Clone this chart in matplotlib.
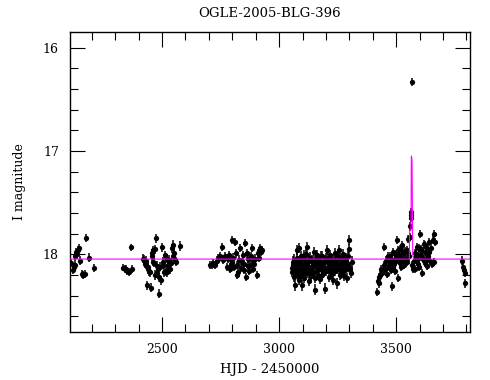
import matplotlib
matplotlib.use("Agg")
import matplotlib.pyplot as plt
from matplotlib.ticker import MultipleLocator

# OGLE-2005-BLG-396 light curve
# each season: HJD-2450000, I mag, typical error
hjd_2002 = [2113, 2118, 2122, 2127, 2130, 2133, 2138, 2141, 2145, 2150,
            2157, 2163, 2170, 2177, 2188, 2208]
mag_2002 = [18.08, 18.15, 18.12, 18.10, 18.02, 17.98, 18.00, 17.96, 17.94, 18.06,
            18.19, 18.20, 18.19, 17.84, 18.03, 18.13]
err_2002 = 0.04

hjd_2002b = [2333, 2342, 2348, 2352, 2358, 2366, 2373]
mag_2002b = [18.13, 18.14, 18.14, 18.16, 18.17, 17.93, 18.14]
err_2002b = 0.035

hjd_2003 = [2418, 2422, 2427, 2430, 2433, 2436, 2440, 2442, 2445, 2449,
            2452, 2456, 2458, 2460, 2463, 2466, 2470, 2472, 2474, 2477,
            2480, 2484, 2487, 2489, 2492, 2495, 2499, 2502, 2506, 2509,
            2513, 2516, 2520, 2523, 2527, 2531, 2534, 2538, 2541, 2545,
            2548, 2552, 2556, 2560, 2577]
mag_2003 = [18.04, 18.05, 18.09, 18.10, 18.06, 18.30, 18.12, 18.14, 18.16, 18.17,
            18.32, 17.99, 18.02, 18.07, 17.96, 18.08, 18.20, 17.95, 17.845, 18.11,
            18.18, 18.14, 18.22, 18.38, 18.12, 18.25, 17.93, 18.10, 18.07, 18.17,
            18.01, 18.16, 18.04, 18.17, 18.10, 18.05, 18.14, 18.08, 17.94, 18.02,
            17.91, 17.99, 18.05, 18.07, 17.92]
err_2003 = 0.045

hjd_2004 = [2705, 2712, 2719, 2726, 2733, 2740, 2748, 2755, 2762, 2769,
            2776, 2783, 2786, 2790, 2794, 2797, 2800, 2805, 2809, 2812,
            2816, 2819, 2822, 2826, 2830, 2833, 2836, 2840, 2844, 2848,
            2851, 2855, 2858, 2862, 2865, 2868, 2872, 2876, 2880, 2883,
            2887, 2890, 2894, 2898, 2904, 2908, 2912, 2916, 2919, 2923, 2926]
mag_2004 = [18.10, 18.10, 18.08, 18.10, 18.06, 18.04, 18.02, 17.93, 18.05, 18.02,
            18.12, 18.04, 18.01, 18.14, 18.09, 18.07, 17.86, 18.03, 18.12, 17.88,
            17.99, 18.10, 18.20, 18.17, 18.05, 17.94, 18.13, 18.07, 18.01, 18.15,
            18.09, 17.89, 18.22, 17.99, 18.11, 18.04, 18.16, 18.10, 18.02, 17.94,
            18.06, 18.14, 18.09, 18.04, 18.20, 17.99, 17.97, 18.03, 17.94, 17.98, 17.96]
err_2004 = 0.04

hjd_2005 = [3054, 3058, 3062, 3065, 3068, 3071, 3074, 3076, 3079, 3081,
            3083, 3086, 3088, 3091, 3093, 3097, 3099, 3102, 3105, 3108,
            3110, 3113, 3116, 3118, 3121, 3124, 3127, 3129, 3132, 3135,
            3138, 3141, 3144, 3147, 3150, 3154, 3157, 3160, 3163, 3166,
            3169, 3172, 3175, 3178, 3181, 3184, 3187, 3190, 3193, 3197,
            3200, 3204, 3207, 3210, 3213, 3216, 3219, 3222, 3225, 3228,
            3231, 3234, 3237, 3240, 3243, 3247, 3250, 3254, 3257, 3260,
            3263, 3266, 3269, 3272, 3275, 3278, 3281, 3284, 3289, 3292,
            3295, 3297, 3300, 3304, 3308, 3311,
            3056, 3060, 3067, 3073, 3078, 3085, 3090, 3095, 3101, 3107,
            3112, 3119, 3126, 3133, 3140, 3146, 3152, 3159, 3165, 3171,
            3177, 3183, 3189, 3195, 3202, 3209, 3215, 3221, 3227, 3233,
            3239, 3245, 3252, 3259, 3265, 3271, 3277, 3283, 3290, 3302]
mag_2005 = [18.17, 18.10, 18.22, 18.05, 18.30, 18.14, 18.08, 17.96, 18.20, 18.12,
            17.94, 18.25, 18.06, 18.16, 18.02, 18.30, 18.11, 18.19, 18.04, 18.23,
            18.09, 18.14, 18.00, 17.93, 18.18, 18.07, 18.26, 18.12, 18.03, 18.15,
            18.21, 18.06, 18.10, 17.98, 18.17, 18.34, 18.08, 18.13, 18.01, 18.20,
            18.11, 18.05, 18.24, 18.09, 18.15, 18.02, 18.18, 18.07, 18.12, 18.33,
            18.04, 17.96, 18.14, 18.08, 18.22, 18.01, 18.11, 18.17, 18.05, 18.25,
            18.09, 18.13, 17.99, 18.16, 18.06, 18.28, 18.10, 17.96, 18.14, 18.03,
            18.19, 18.08, 18.12, 18.00, 18.21, 18.07, 18.15, 18.04, 18.23, 18.11,
            18.02, 17.86, 17.95, 18.13, 18.18, 18.07,
            18.13, 18.07, 18.18, 18.11, 18.03, 18.15, 18.21, 18.09, 18.13, 18.01,
            18.17, 18.10, 18.05, 18.19, 18.12, 18.08, 18.23, 18.04, 18.15, 18.10,
            18.02, 18.20, 18.12, 18.06, 18.16, 18.03, 18.13, 18.09, 18.19, 18.05,
            18.11, 18.14, 18.02, 18.20, 18.10, 18.16, 18.04, 18.12, 18.08, 18.15]
err_2005 = 0.05

hjd_2006 = [3418, 3422, 3425, 3428, 3432, 3436, 3440, 3446, 3449, 3453,
            3456, 3460, 3464, 3467, 3470, 3474, 3477, 3481, 3484, 3488,
            3491, 3495, 3499, 3503, 3506, 3510, 3514, 3517, 3521, 3524,
            3527, 3531, 3534, 3538, 3542, 3546, 3549, 3552, 3555, 3558,
            3560, 3561, 3562, 3564, 3567, 3569, 3572, 3575, 3578, 3581,
            3585, 3588, 3592, 3596, 3599, 3603, 3607, 3610, 3614, 3617,
            3621, 3624, 3628, 3631, 3635, 3638, 3642, 3645, 3649, 3652,
            3656, 3660, 3663, 3667,
            3472, 3479, 3486, 3493, 3501, 3508, 3515, 3523, 3530, 3537,
            3544, 3583, 3590, 3597, 3605, 3612, 3619, 3626, 3633, 3640]
mag_2006 = [18.36, 18.26, 18.28, 18.22, 18.20, 18.14, 18.18, 17.93, 18.10, 18.14,
            18.06, 18.19, 18.02, 18.10, 18.12, 18.02, 18.15, 18.31, 18.05, 17.98,
            18.09, 18.16, 18.03, 17.86, 18.23, 18.01, 18.08, 17.95, 18.12, 17.91,
            18.07, 18.00, 18.10, 17.97, 18.05, 18.07, 17.99, 17.85, 18.02, 17.83,
            17.73, 17.62, 17.59, 17.65, 16.33, 18.10, 18.14, 18.06, 17.99, 18.14,
            18.03, 17.93, 18.09, 18.01, 18.12, 17.80, 17.95, 18.18, 18.04, 17.90,
            18.08, 17.91, 17.99, 18.11, 18.02, 17.97, 17.88, 18.06, 17.94, 18.09,
            17.86, 17.80, 18.07, 17.88,
            18.08, 18.04, 18.12, 18.00, 18.06, 17.96, 18.03, 18.10, 17.98, 18.04,
            17.96, 18.00, 18.05, 17.94, 18.02, 17.97, 18.05, 17.93, 18.04, 17.98]
err_2006 = 0.04

hjd_2006b = [3781, 3785, 3788, 3792, 3795]
mag_2006b = [18.06, 18.12, 18.15, 18.28, 18.18]
err_2006b = 0.04

# model light curve (magenta)
model_hjd = [2100, 3556, 3557, 3563, 3564.5, 3566, 3567.5, 3570.5, 3574, 3830]
model_mag = [18.045, 18.045, 17.77, 17.77, 17.05, 17.06, 17.10, 18.0, 18.045, 18.045]

plt.rcParams['font.family'] = 'DejaVu Serif'

fig = plt.figure(figsize=(4.9, 3.8), dpi=100)
ax = fig.add_axes([0.1429, 0.1263, 0.8163, 0.7895])

seasons = [(hjd_2002, mag_2002, err_2002), (hjd_2002b, mag_2002b, err_2002b),
           (hjd_2003, mag_2003, err_2003), (hjd_2004, mag_2004, err_2004),
           (hjd_2005, mag_2005, err_2005), (hjd_2006, mag_2006, err_2006),
           (hjd_2006b, mag_2006b, err_2006b)]
for t, m, e in seasons:
    ax.errorbar(t, m, yerr=e, fmt='o', color='black', ms=3.8, mew=0,
                elinewidth=1.1, capsize=3, capthick=1.1)

ax.plot(model_hjd, model_mag, color='#ff00ff', lw=0.8, zorder=5)

ax.set_xlim(2107, 3815)
ax.set_ylim(18.75, 15.85)
ax.xaxis.set_major_locator(MultipleLocator(500))
ax.xaxis.set_minor_locator(MultipleLocator(100))
ax.yaxis.set_major_locator(MultipleLocator(1))
ax.yaxis.set_minor_locator(MultipleLocator(0.2))
ax.tick_params(which='both', direction='in', top=True, right=True,
               labelsize=9, width=0.8, pad=8)
ax.tick_params(which='major', length=11)
ax.tick_params(which='minor', length=5.5)
for s in ax.spines.values():
    s.set_linewidth(1.0)

ax.set_title('OGLE-2005-BLG-396', fontsize=9.5, pad=11)
ax.set_xlabel('HJD - 2450000', fontsize=9.5, labelpad=5)
ax.set_ylabel('I magnitude', fontsize=9, labelpad=12)

fig.savefig('out.png', dpi=100)
